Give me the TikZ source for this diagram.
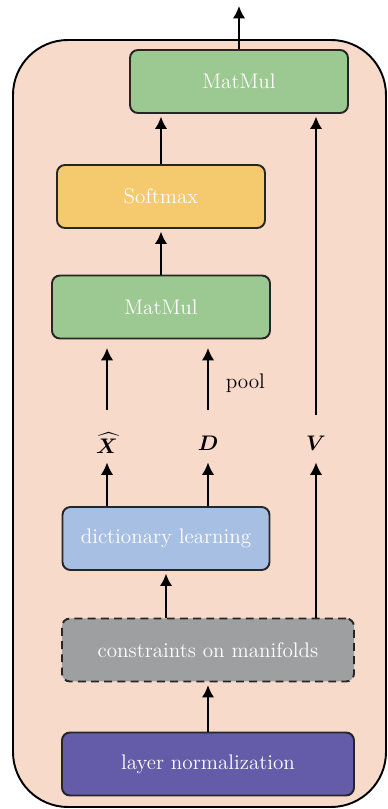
\documentclass[tikz,border=0pt]{standalone}
\usepackage{amsmath,bm}
\usepackage{tikz}
\usetikzlibrary{arrows.meta,positioning}

\definecolor{bgpeach}{HTML}{F8DACB}
\definecolor{mmgreen}{HTML}{9CC891}
\definecolor{smyellow}{HTML}{F5CA6E}
\definecolor{dlblue}{HTML}{A8BFE4}
\definecolor{cmgray}{HTML}{9E9FA1}
\definecolor{lnpurple}{HTML}{645CA8}

\tikzset{
  blockbox/.style={draw=black!85, line width=1.1pt, rounded corners=0.16cm,
    minimum height=1.26cm, text=white, font=\fontsize{12}{14}\selectfont},
  lbl/.style={inner sep=0pt, minimum height=0.66cm, font=\fontsize{12}{14}\selectfont},
  flow/.style={->, line width=1.1pt, shorten >=1.5pt}
}

\begin{document}
\begin{tikzpicture}[>={Latex[length=7pt,width=7pt]}]
\useasboundingbox (0,0) rectangle (7.76,16.18);
% The rounded frame round the whole block
\draw [line width=1.1pt, fill=bgpeach, rounded corners=1.1cm] (0.26,0.04) rectangle (7.72,15.38);
% The blocks, from top to bottom
\node [blockbox, fill=mmgreen, minimum width=4.36cm] (mm1) at (4.78,14.55) {MatMul};
\node [blockbox, fill=smyellow, minimum width=4.16cm] (sm) at (3.22,12.25) {Softmax};
\node [blockbox, fill=mmgreen, minimum width=4.36cm] (mm2) at (3.22,10.04) {MatMul};
\node [blockbox, fill=dlblue, minimum width=4.14cm] (dl) at (3.32,5.41) {dictionary learning};
\node [blockbox, fill=cmgray, minimum width=5.84cm, dash pattern=on 4.5pt off 3pt] (cm) at (4.16,3.18) {constraints on manifolds};
\node [blockbox, fill=lnpurple, minimum width=5.84cm] (ln) at (4.16,0.9) {layer normalization};
% The three inputs of the attention
\foreach \nm/\x/\lab in {xh/2.14/{\bm{\widehat{X}}}, d/4.16/{\bm{D}}, v/6.32/{\bm{V}}} {
  \node [lbl] (\nm) at (\x,7.32) {$\lab$};
}
\coordinate (out) at (4.78,16.06);
% Connectors
\draw [flow] (ln.north) -- (cm.south);
\draw [flow] (cm.north -| dl) -- (dl.south);
\draw [flow] (cm.north -| v) -- (v.south);
\draw [flow] (dl.north -| xh) -- (xh.south);
\draw [flow] (dl.north -| d) -- (d.south);
\draw [flow, shorten <=0.33cm, shorten >=0.17cm] (xh.north) -- (xh |- mm2.south);
\draw [flow, shorten <=0.33cm, shorten >=0.17cm] (d.north) -- (d |- mm2.south)
  node [midway, right=0.22cm, font=\fontsize{12}{14}\selectfont] {pool};
\draw [flow, shorten <=0.23cm] (v.north) -- (v |- mm1.south);
\draw [flow] (mm2.north) -- (sm.south);
\draw [flow] (sm.north) -- (sm.north |- mm1.south);
\draw [flow, shorten >=0pt] (mm1.north) -- (out);
\end{tikzpicture}
\end{document}
